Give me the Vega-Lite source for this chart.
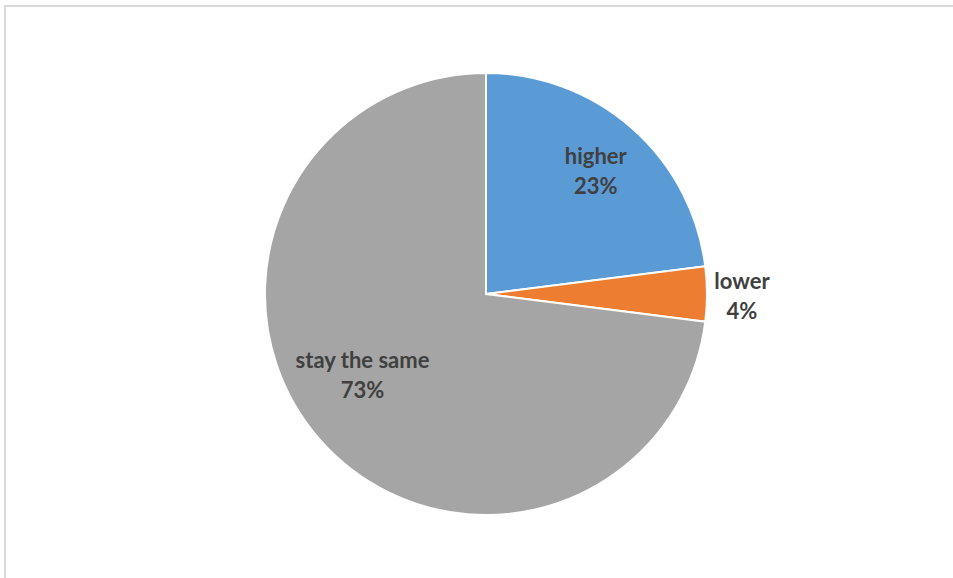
{
  "$schema": "https://vega.github.io/schema/vega-lite/v6.json",
  "width": 953,
  "height": 578,
  "autosize": {"type": "fit", "contains": "padding"},
  "padding": {"top": 6, "left": 5, "right": -4, "bottom": -4},
  "background": "white",
  "view": {"stroke": "#d9d9d9", "strokeWidth": 2},
  "data": {
    "values": [
      {"category": "higher", "value": 23},
      {"category": "lower", "value": 4},
      {"category": "stay the same", "value": 73}
    ]
  },
  "transform": [
    {"calculate": "datum.category + '\\n' + datum.value + '%'", "as": "label"}
  ],
  "encoding": {
    "theta": {"field": "value", "type": "quantitative", "stack": true}
  },
  "layer": [
    {
      "mark": {"type": "arc", "outerRadius": 221, "stroke": "white", "strokeWidth": 2, "xOffset": 5, "yOffset": 0},
      "encoding": {
        "color": {
          "field": "category",
          "type": "nominal",
          "scale": {"domain": ["higher", "lower", "stay the same"], "range": ["#5B9BD5", "#ED7D31", "#A5A5A5"]},
          "legend": null
        }
      }
    },
    {
      "mark": {"type": "text", "radius": 166, "font": "Lato", "fontSize": 22, "fontWeight": "bold", "color": "#404040", "lineBreak": "\n", "lineHeight": 30, "xOffset": 5, "yOffset": -12},
      "encoding": {
        "detail": {"field": "category", "type": "nominal"},
        "text": {"condition": {"test": "datum.category === 'higher'", "field": "label"}, "value": ""}
      }
    },
    {
      "mark": {"type": "text", "radius": 256, "font": "Lato", "fontSize": 22, "fontWeight": "bold", "color": "#404040", "lineBreak": "\n", "lineHeight": 30, "xOffset": 5, "yOffset": -12},
      "encoding": {
        "detail": {"field": "category", "type": "nominal"},
        "text": {"condition": {"test": "datum.category === 'lower'", "field": "label"}, "value": ""}
      }
    },
    {
      "mark": {"type": "text", "radius": 146, "font": "Lato", "fontSize": 22, "fontWeight": "bold", "color": "#404040", "lineBreak": "\n", "lineHeight": 30, "xOffset": 5, "yOffset": -12, "dx": -14, "dy": -18},
      "encoding": {
        "detail": {"field": "category", "type": "nominal"},
        "text": {"condition": {"test": "datum.category === 'stay the same'", "field": "label"}, "value": ""}
      }
    }
  ]
}
